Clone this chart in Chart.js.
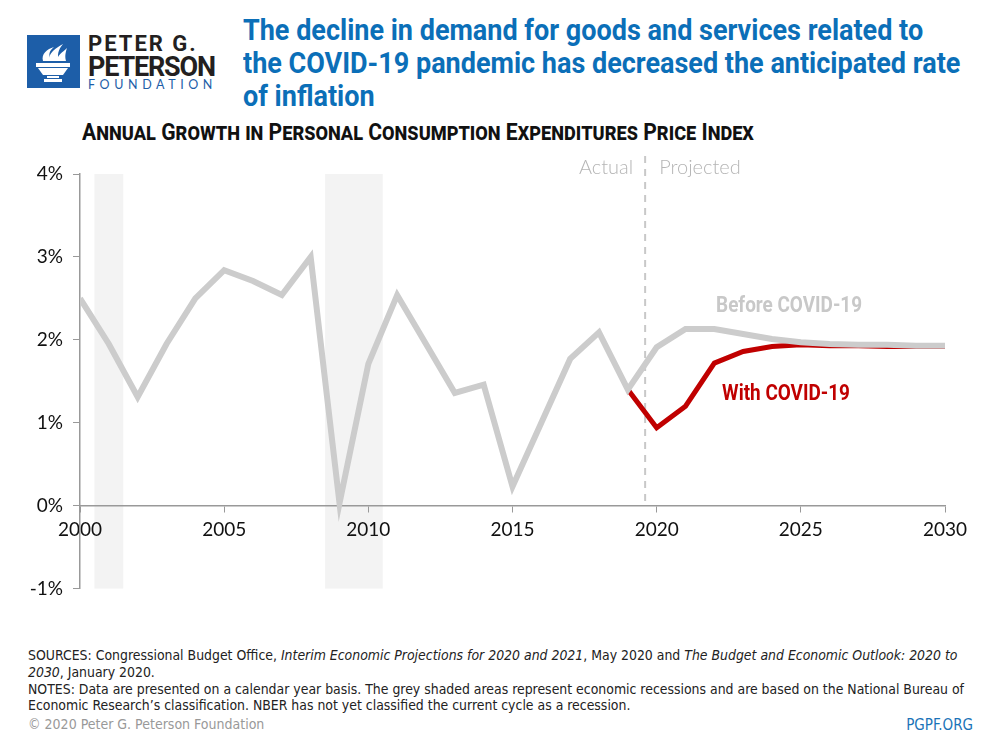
<!DOCTYPE html>
<html>
<head>
<meta charset="utf-8">
<script src="https://cdn.jsdelivr.net/npm/chart.js@4"></script>
<style>
  body { margin: 0; background: #fff; }
  #page { position: relative; width: 1000px; height: 750px; overflow: hidden; background: #fff; }
  .narrow { font-family: "DejaVu Sans Condensed", sans-serif; }
  .squeeze { transform-origin: 0 0; white-space: nowrap; }
  #logo { position: absolute; left: 27px; top: 35px; }
  #logoText { position: absolute; left: 88px; top: 33px; line-height: 1; font-family: Roboto, sans-serif; }
  #logoText .l1 { font-weight: bold; font-size: 22px; color: #231f20; letter-spacing: 2px; height: 21px; }
  #logoText .l2 { font-weight: bold; font-size: 27px; color: #231f20; letter-spacing: -1.2px; height: 22px; }
  #logoText .l3 { font: 12.5px "Lato", sans-serif; color: #1d5ea8; letter-spacing: 4.6px; margin-top: 1px; }
  #title { position: absolute; left: 243px; top: 13px; font-family: Roboto, sans-serif; font-weight: bold; font-size: 30px; line-height: 33px; color: #0b6fb8; transform: scaleX(0.9); }
  #subtitle { position: absolute; left: 82px; top: 118px; font-family: Roboto, sans-serif; font-weight: bold; font-size: 24px; color: #111; font-variant: small-caps; transform: scaleX(0.88); }
  #chartBox { position: absolute; left: 0; top: 150px; width: 1000px; height: 460px; }
  #notes { position: absolute; left: 28px; top: 647px; font-size: 13.9px; line-height: 16.8px; color: #222; }
  #copy { position: absolute; left: 28px; top: 716px; font-size: 14px; color: #999; }
  #site { position: absolute; right: 27px; top: 716px; font-size: 15px; color: #1a73b8; }
</style>
</head>
<body>
<div id="page">
  <svg id="logo" width="53" height="53" viewBox="0 0 53 53">
    <rect x="0" y="0" width="53" height="53" fill="#1d5ea8"/>
    <path d="M16 26 C14 19 20 14 27 12 C22 16 21 20 24 26 Z" fill="#fff"/>
    <path d="M22 26 C21 18 29 13 36 9 C31 15 30 20 32 26 Z" fill="#fff"/>
    <path d="M30 26 C30 20 36 17 40 13 C38 19 38 22 39 26 Z" fill="#fff"/>
    <rect x="9" y="28" width="34" height="4" fill="#fff"/>
    <polygon points="11,33 41,33 36,40 16,40" fill="#fff"/>
    <rect x="20" y="41" width="12" height="2" fill="#fff"/>
    <rect x="17" y="44" width="18" height="3" fill="#fff"/>
  </svg>
  <div id="logoText">
    <div class="l1">PETER G.</div>
    <div class="l2">PETERSON</div>
    <div class="l3">FOUNDATION</div>
  </div>
  <div id="title" class="squeeze">The decline in demand for goods and services related to<br>the COVID-19 pandemic has decreased the anticipated rate<br>of inflation</div>
  <div id="subtitle" class="squeeze">Annual Growth in Personal Consumption Expenditures Price Index</div>
  <div id="chartBox"><canvas id="chart" width="1000" height="460"></canvas></div>
  <div id="notes" class="narrow">SOURCES: Congressional Budget Office, <i>Interim Economic Projections for 2020 and 2021</i>, May 2020 and <i>The Budget and Economic Outlook: 2020 to<br>2030</i>, January 2020.<br>NOTES: Data are presented on a calendar year basis. The grey shaded areas represent economic recessions and are based on the National Bureau of<br>Economic Research’s classification. NBER has not yet classified the current cycle as a recession.</div>
  <div id="copy" class="narrow">© 2020 Peter G. Peterson Foundation</div>
  <div id="site" class="narrow">PGPF.ORG</div>
</div>
<script>
// years and values (percent)
const years = [2000, 2001, 2002, 2003, 2004, 2005, 2006, 2007, 2008, 2009, 2010,
  2011, 2012, 2013, 2014, 2015, 2016, 2017, 2018, 2019, 2020,
  2021, 2022, 2023, 2024, 2025, 2026, 2027, 2028, 2029, 2030];
const beforeCovid = [2.50, 1.95, 1.31, 1.95, 2.50, 2.84, 2.71, 2.54, 3.00, 0.03, 1.71,
  2.54, 1.95, 1.36, 1.46, 0.23, 1.00, 1.77, 2.09, 1.40, 1.91,
  2.13, 2.13, 2.07, 2.01, 1.97, 1.95, 1.94, 1.94, 1.93, 1.93];
const covidYears = [2019, 2020, 2021, 2022, 2023, 2024, 2025, 2026, 2027, 2028, 2029, 2030];
const withCovid = [1.40, 0.94, 1.20, 1.72, 1.86, 1.92, 1.94, 1.93, 1.93, 1.92, 1.92, 1.92];
const recessions = [[2000.5, 2001.5], [2008.5, 2010.5]];
const projectionStart = 2019.6;
const yTicks = [-1, 0, 1, 2, 3, 4];
const xTicks = [2000, 2005, 2010, 2015, 2020, 2025, 2030];

const tickFont = { family: "Lato", size: 19 };

function squeezedText(ctx, text, x, y, k) {
  ctx.save();
  ctx.translate(x, y);
  ctx.scale(k, 1);
  ctx.fillText(text, 0, 0);
  ctx.restore();
}

const extras = {
  id: "extras",
  beforeDraw(chart) {
    const { ctx, chartArea: a, scales: { x } } = chart;
    ctx.save();
    ctx.fillStyle = "#f3f3f3";
    recessions.forEach(([s, e]) => {
      ctx.fillRect(x.getPixelForValue(s), a.top, x.getPixelForValue(e) - x.getPixelForValue(s), a.bottom - a.top);
    });
    ctx.restore();
  },
  beforeDatasetsDraw(chart) {
    const { ctx, chartArea: a, scales: { x, y } } = chart;
    ctx.save();
    // actual / projected divider
    const px = x.getPixelForValue(projectionStart);
    ctx.strokeStyle = "#c8c8c8";
    ctx.lineWidth = 2;
    ctx.setLineDash([7, 6]);
    ctx.beginPath();
    ctx.moveTo(px, a.top - 18);
    ctx.lineTo(px, y.getPixelForValue(0));
    ctx.stroke();
    ctx.setLineDash([]);
    ctx.font = "300 20px Lato, sans-serif";
    ctx.fillStyle = "#b5b5b5";
    ctx.textBaseline = "middle";
    ctx.textAlign = "right";
    ctx.fillText("Actual", px - 12, a.top - 6);
    ctx.textAlign = "left";
    ctx.fillText("Projected", px + 14, a.top - 6);
    ctx.restore();
  },
  afterDatasetsDraw(chart) {
    const { ctx, scales: { x, y } } = chart;
    ctx.save();
    ctx.font = "bold 22px Roboto, sans-serif";
    ctx.textBaseline = "middle";
    ctx.textAlign = "left";
    ctx.fillStyle = "#c8c8c8";
    squeezedText(ctx, "Before COVID-19", x.getPixelForValue(2022.06), y.getPixelForValue(2.4), 0.86);
    ctx.fillStyle = "#c00000";
    squeezedText(ctx, "With COVID-19", x.getPixelForValue(2022.27), y.getPixelForValue(1.34), 0.86);
    ctx.restore();
  }
};

new Chart(document.getElementById("chart"), {
  type: "line",
  data: {
    datasets: [
      {
        label: "Before COVID-19",
        data: years.map((yr, i) => ({ x: yr, y: beforeCovid[i] })),
        borderColor: "#cccccc",
        borderWidth: 6,
        borderJoinStyle: "miter",
        pointRadius: 0,
        tension: 0,
      },
      {
        label: "With COVID-19",
        data: covidYears.map((yr, i) => ({ x: yr, y: withCovid[i] })),
        borderColor: "#c00000",
        borderWidth: 5,
        borderJoinStyle: "miter",
        pointRadius: 0,
        tension: 0,
      },
    ],
  },
  options: {
    responsive: false,
    animation: false,
    layout: { padding: { top: 24, right: 55, bottom: 21, left: 0 } },
    plugins: { legend: { display: false }, tooltip: { enabled: false } },
    scales: {
      x: {
        type: "linear",
        position: { y: 0 },
        min: 2000,
        max: 2030,
        afterBuildTicks: (s) => { s.ticks = xTicks.map((v) => ({ value: v })); },
        ticks: { font: tickFont, color: "#111", padding: 7, maxRotation: 0, callback: (v) => String(v) },
        grid: { drawOnChartArea: false, tickLength: 6, color: "#999" },
        border: { color: "#999", width: 1.5 },
      },
      y: {
        min: -1,
        max: 4,
        afterBuildTicks: (s) => { s.ticks = yTicks.map((v) => ({ value: v })); },
        afterFit: (s) => { s.width = 80; },
        ticks: { font: tickFont, color: "#111", padding: 10, callback: (v) => v + "%" },
        grid: { drawOnChartArea: false, tickLength: 7, color: "#999" },
        border: { color: "#999", width: 1.5 },
      },
    },
  },
  plugins: [extras],
});
</script>
</body>
</html>
